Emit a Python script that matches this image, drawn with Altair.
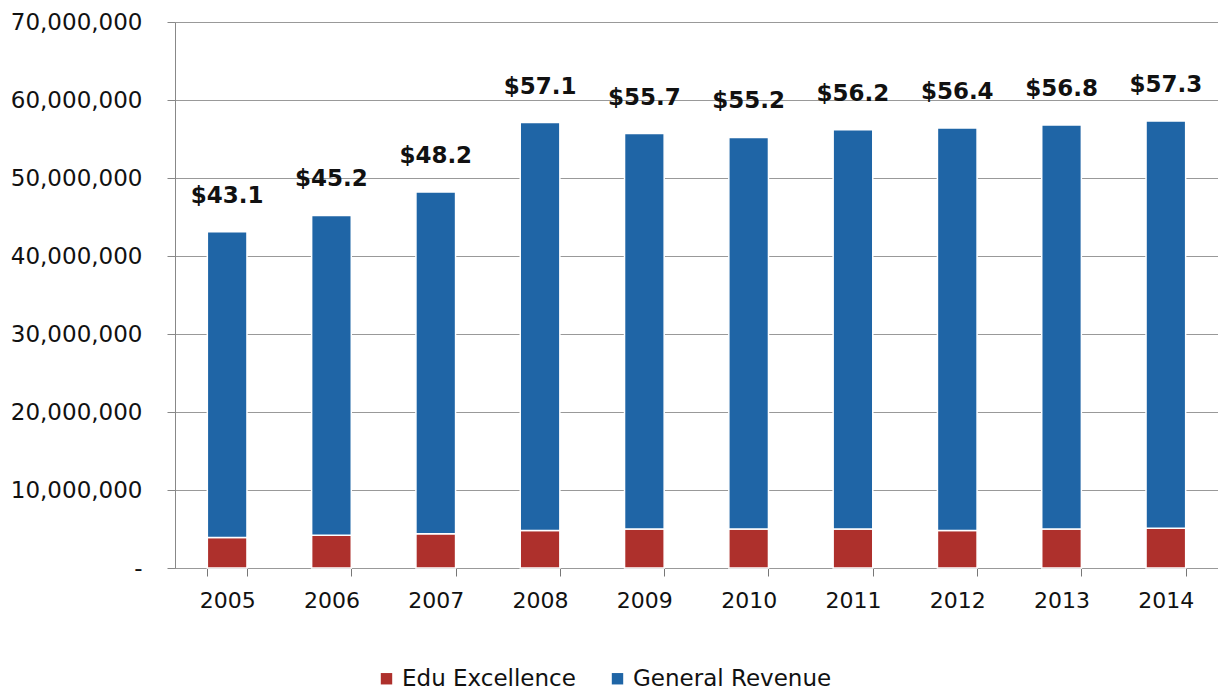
import altair as alt
import pandas as pd

years = ["2005", "2006", "2007", "2008", "2009", "2010", "2011", "2012", "2013", "2014"]
totals_m = [43.1, 45.2, 48.2, 57.1, 55.7, 55.2, 56.2, 56.4, 56.8, 57.3]
edu_m = [3.9, 4.2, 4.4, 4.8, 5.0, 5.0, 5.0, 4.8, 5.0, 5.1]
series = ["Edu Excellence", "General Revenue"]
colors = ["#AE302C", "#1F65A6"]

rows = []
for y, t, e in zip(years, totals_m, edu_m):
    rows.append({"year": y, "series": series[0], "ord": 0, "value": e * 1e6})
    rows.append({"year": y, "series": series[1], "ord": 1, "value": (t - e) * 1e6})
df = pd.DataFrame(rows)
tot = pd.DataFrame({"year": years, "total": [t * 1e6 for t in totals_m],
                    "label": ["$" + f"{t:.1f}" for t in totals_m]})

FONT = "DejaVu Sans"

x = alt.X("year:N", title=None, scale=alt.Scale(paddingInner=0.62, paddingOuter=0.31),
          axis=alt.Axis(labelAngle=0, labelFontSize=22, labelColor="#111", labelFont=FONT,
                        tickBand="extent", tickSize=8, tickColor="#777", domainColor="#999",
                        labelPadding=14, grid=False))

bars = alt.Chart(df).mark_bar(stroke="white", strokeWidth=1.5).encode(
    x=x,
    y=alt.Y("value:Q", title=None, stack="zero",
            scale=alt.Scale(domain=[0, 70000000], nice=False),
            axis=alt.Axis(values=list(range(0, 70000001, 10000000)),
                          labelExpr="datum.value == 0 ? '-' : format(datum.value, ',')",
                          labelFontSize=23, labelFont=FONT, labelColor="#111",
                          tickSize=8, tickColor="#888", domainColor="#888",
                          labelPadding=25, gridColor="#999", gridWidth=1)),
    color=alt.Color("series:N", scale=alt.Scale(domain=series, range=colors),
                    legend=alt.Legend(orient="none", legendX=200, legendY=645, title=None,
                                      direction="horizontal",
                                      labelFontSize=23, labelFont=FONT, labelColor="#111",
                                      symbolType="square", symbolSize=130, symbolStrokeWidth=0,
                                      columnPadding=30, labelLimit=400)),
    order=alt.Order("ord:Q"),
)

labels = alt.Chart(tot).mark_text(fontSize=23, fontWeight="bold", font=FONT, color="#111",
                                  dy=-36).encode(
    x=alt.X("year:N"),
    y=alt.Y("total:Q"),
    text="label:N",
)

chart = alt.layer(bars, labels).properties(
    width=1043, height=546,
    padding={"left": 2, "top": 3, "right": 0, "bottom": 0},
).configure_view(stroke=None).configure(background="white")

chart.save("out.html", embed_options={"renderer": "svg", "actions": False})
